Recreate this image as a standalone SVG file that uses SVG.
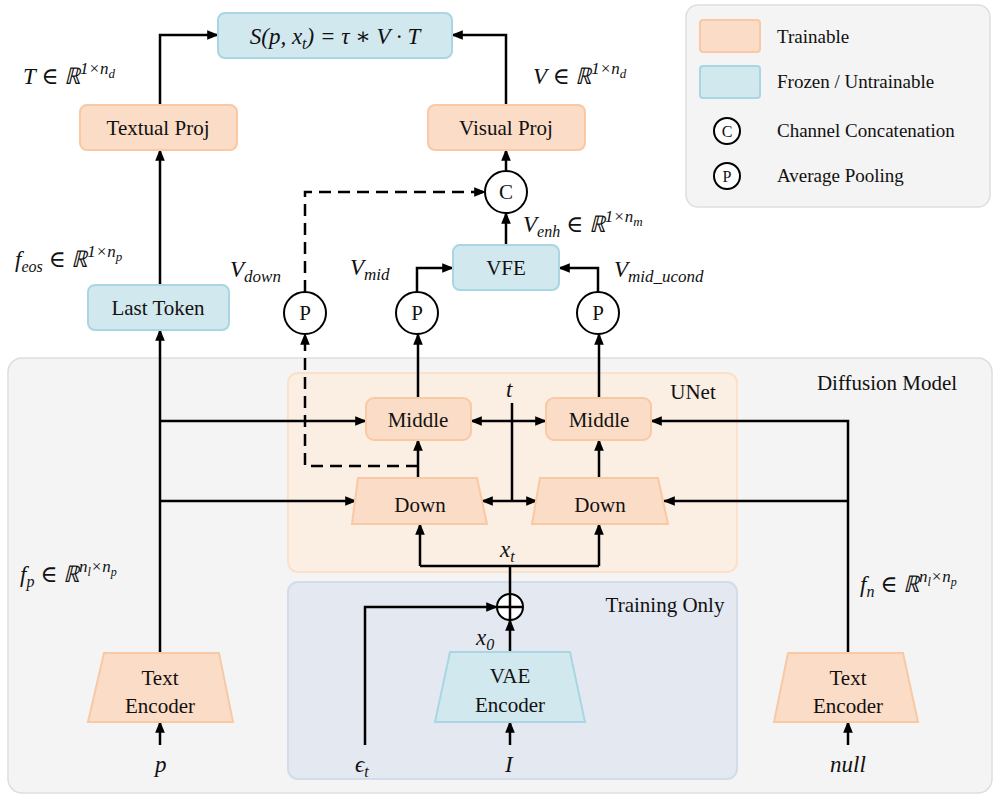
<svg xmlns="http://www.w3.org/2000/svg" width="997" height="799" viewBox="0 0 997 799" font-family="Liberation Serif, DejaVu Serif, Times New Roman, serif">
<defs>
<marker id="ar2" viewBox="0 0 10 10" refX="9" refY="5" markerWidth="12" markerHeight="12" markerUnits="userSpaceOnUse" orient="auto"><path d="M0,1 L10,5 L0,9 z" fill="#000"/></marker>
<style>
.t{fill:#fbdcc6;stroke:#f8c9a4;stroke-width:2}
.f{fill:#d2e8ef;stroke:#a9d6e2;stroke-width:2}
.c{fill:#fff;stroke:#000;stroke-width:2}
.tx{font-size:21px;text-anchor:middle;fill:#111}
.m{font-style:italic;font-size:23px;fill:#111}
.lg{font-size:19px;fill:#111}
.e{fill:none;stroke:#000;stroke-width:2.5;marker-end:url(#ar2)}
.ln{fill:none;stroke:#000;stroke-width:2.5}
.d{fill:none;stroke:#000;stroke-width:2.5;stroke-dasharray:12,7;marker-end:url(#ar2)}
</style>
</defs>
<g id="bg">
<rect x="8" y="358" width="984" height="435" rx="14" fill="#f4f4f4" stroke="#dedede" stroke-width="1.5"/>
<text class="tx" x="887" y="390">Diffusion Model</text>
<rect x="288" y="373" width="449" height="199" rx="10" fill="#fbeee3" stroke="#fbe0cc" stroke-width="2"/>
<text class="tx" x="693" y="399">UNet</text>
<rect x="288" y="582" width="449" height="197" rx="10" fill="#e4e9f1" stroke="#d2dcea" stroke-width="2"/>
<text class="tx" x="665" y="612">Training Only</text>
</g>
<g id="legend">
<rect x="686" y="5" width="304" height="202" rx="12" fill="#f4f4f4" stroke="#dedede" stroke-width="1.5"/>
<rect class="t" x="700" y="20" width="60" height="32" rx="3"/>
<text class="lg" x="777" y="43">Trainable</text>
<rect class="f" x="700" y="66" width="60" height="32" rx="3"/>
<text class="lg" x="777" y="88">Frozen / Untrainable</text>
<circle class="c" cx="727" cy="131" r="13"/><text class="tx" x="727" y="137" style="font-size:16px">C</text>
<text class="lg" x="777" y="137">Channel Concatenation</text>
<circle class="c" cx="727" cy="176" r="13"/><text class="tx" x="727" y="182" style="font-size:16px">P</text>
<text class="lg" x="777" y="182">Average Pooling</text>
</g>
<g id="connectors">
<path class="e" d="M160,105 V35 H218"/>
<path class="e" d="M506,105 V35 H452"/>
<path class="e" d="M160,285 V150"/>
<path class="e" d="M506,171 V150"/>
<path class="e" d="M506,245 V213"/>
<path class="e" d="M417,292 V268 H453"/>
<path class="e" d="M598,292 V268 H559"/>
<path class="e" d="M418,398 V334"/>
<path class="e" d="M599,398 V334"/>
<path class="d" d="M305,292 V192 H485"/>
<path class="d" d="M418,466 H305 V334"/>
<path class="e" d="M160,653 V330"/>
<path class="e" d="M160,421 H366"/>
<path class="e" d="M160,501 H356"/>
<path class="e" d="M848,653 V421 H651"/>
<path class="e" d="M848,501 H664"/>
<path class="e" d="M418,478 V440"/>
<path class="e" d="M599,478 V440"/>
<path class="ln" d="M512,403 V501"/>
<path class="e" d="M512,421 H471"/>
<path class="e" d="M512,421 H546"/>
<path class="e" d="M512,501 H482"/>
<path class="e" d="M512,501 H537"/>
<path class="ln" d="M510,594 V566 M420,566 H599"/>
<path class="e" d="M420,566 V524"/>
<path class="e" d="M599,566 V524"/>
<path class="e" d="M365,745 V607 H497"/>
<path class="e" d="M510,652 V620"/>
<path class="e" d="M510,745 V722"/>
<path class="e" d="M160,745 V722"/>
<path class="e" d="M848,745 V722"/>
</g>
<g id="formula"><rect class="f" x="218" y="13" width="234" height="45" rx="7"/>
<text class="m" x="335" y="44" text-anchor="middle">S(p, x<tspan font-size="16" dy="5">t</tspan><tspan dy="-5">) = τ ∗ V · T</tspan></text></g>
<g id="textualproj"><rect class="t" x="80" y="105" width="157" height="45" rx="7"/><text class="tx" x="158" y="135">Textual Proj</text></g>
<g id="visualproj"><rect class="t" x="428" y="105" width="157" height="45" rx="7"/><text class="tx" x="506" y="135">Visual Proj</text></g>
<g id="concat"><circle class="c" cx="506" cy="192" r="21"/><text class="tx" x="506" y="199">C</text></g>
<g id="vfe"><rect class="f" x="453" y="245" width="106" height="45" rx="7"/><text class="tx" x="506" y="275">VFE</text></g>
<g id="lasttoken"><rect class="f" x="88" y="285" width="141" height="45" rx="7"/><text class="tx" x="158" y="315">Last Token</text></g>
<g id="p1"><circle class="c" cx="305" cy="313" r="21"/><text class="tx" x="305" y="320">P</text></g>
<g id="p2"><circle class="c" cx="417" cy="313" r="21"/><text class="tx" x="417" y="320">P</text></g>
<g id="p3"><circle class="c" cx="598" cy="313" r="21"/><text class="tx" x="598" y="320">P</text></g>
<g id="middle1"><rect class="t" x="366" y="398" width="105" height="42" rx="8"/><text class="tx" x="418" y="427">Middle</text></g>
<g id="middle2"><rect class="t" x="546" y="398" width="105" height="42" rx="8"/><text class="tx" x="599" y="427">Middle</text></g>
<g id="down1"><path class="t" d="M358,478 H477 L487,524 H352 z"/><text class="tx" x="420" y="512">Down</text></g>
<g id="down2"><path class="t" d="M540,478 H658 L668,524 H532 z"/><text class="tx" x="600" y="512">Down</text></g>
<g id="plus"><circle class="c" cx="510" cy="607" r="13"/><path class="ln" d="M497,607 H523 M510,594 V620"/></g>
<g id="vae"><path class="f" d="M450,652 H570 L585,722 H435 z"/><text class="tx" x="510" y="683">VAE</text><text class="tx" x="510" y="712">Encoder</text></g>
<g id="te1"><path class="t" d="M104,653 H219 L233,722 H88 z"/><text class="tx" x="160" y="685">Text</text><text class="tx" x="160" y="713">Encoder</text></g>
<g id="te2"><path class="t" d="M788,653 H903 L918,722 H774 z"/><text class="tx" x="848" y="685">Text</text><text class="tx" x="848" y="713">Encoder</text></g>
<g id="labels">
<text class="m" x="23" y="84">T ∈ ℝ<tspan font-size="17" dy="-10">1×n</tspan><tspan font-size="13" dy="4">d</tspan></text>
<text class="m" x="533" y="84">V ∈ ℝ<tspan font-size="17" dy="-10">1×n</tspan><tspan font-size="13" dy="4">d</tspan></text>
<text class="m" x="15" y="267">f<tspan font-size="16" dy="5">eos</tspan><tspan dy="-5"> ∈ ℝ</tspan><tspan font-size="17" dy="-10">1×n</tspan><tspan font-size="13" dy="4">p</tspan></text>
<text class="m" x="523" y="232">V<tspan font-size="16" dy="5">enh</tspan><tspan dy="-5"> ∈ ℝ</tspan><tspan font-size="17" dy="-10">1×n</tspan><tspan font-size="13" dy="4">m</tspan></text>
<text class="m" x="230" y="277">V<tspan font-size="17" dy="5">down</tspan></text>
<text class="m" x="350" y="275">V<tspan font-size="17" dy="5">mid</tspan></text>
<text class="m" x="614" y="277">V<tspan font-size="17" dy="5">mid_ucond</tspan></text>
<text class="m" x="506" y="397">t</text>
<text class="m" x="500" y="557">x<tspan font-size="16" dy="5">t</tspan></text>
<text class="m" x="476" y="645">x<tspan font-size="16" dy="5">0</tspan></text>
<text class="m" x="20" y="582">f<tspan font-size="16" dy="5">p</tspan><tspan dy="-5"> ∈ ℝ</tspan><tspan font-size="17" dy="-10">n</tspan><tspan font-size="12" dy="4">l</tspan><tspan font-size="17" dy="-4">×n</tspan><tspan font-size="12" dy="4">p</tspan></text>
<text class="m" x="860" y="592">f<tspan font-size="16" dy="5">n</tspan><tspan dy="-5"> ∈ ℝ</tspan><tspan font-size="17" dy="-10">n</tspan><tspan font-size="12" dy="4">l</tspan><tspan font-size="17" dy="-4">×n</tspan><tspan font-size="12" dy="4">p</tspan></text>
<text class="m" x="155" y="772">p</text>
<text class="m" x="355" y="772">ϵ<tspan font-size="16" dy="5">t</tspan></text>
<text class="m" x="505" y="772">I</text>
<text class="m" x="848" y="772" text-anchor="middle">null</text>
</g>
</svg>
